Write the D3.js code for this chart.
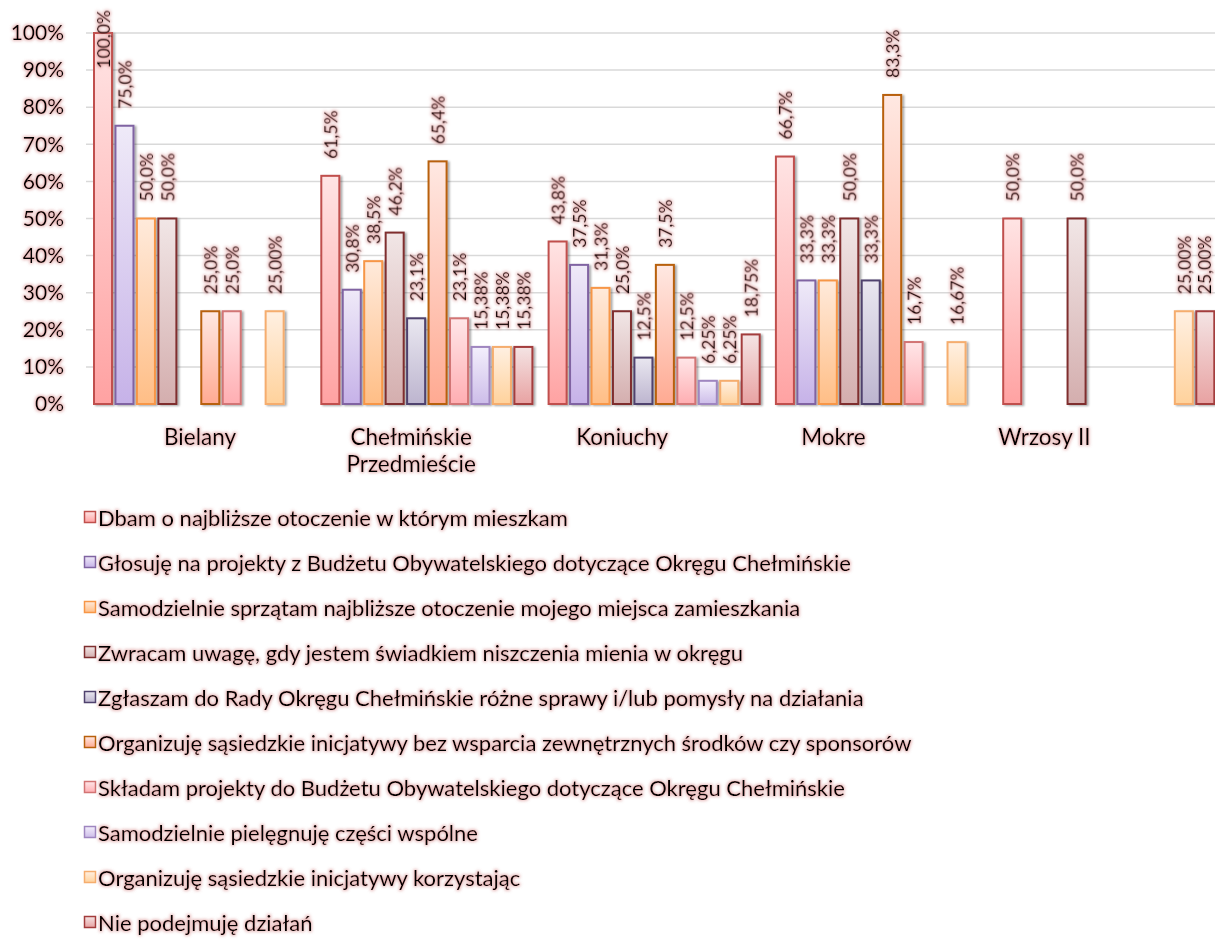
<!DOCTYPE html>
<html><head><meta charset="utf-8">
<script src="https://cdn.jsdelivr.net/npm/d3@7"></script>
<style>
html,body{margin:0;padding:0;background:#fff;}
text{font-family:Lato,"Open Sans",sans-serif;fill:#000;}
</style></head>
<body><svg id="c" width="1215" height="943"></svg>
<script>
const categories = ["Bielany", "Chełmińskie\nPrzedmieście", "Koniuchy", "Mokre", "Wrzosy II"];
const seriesNames = [
  "Dbam o najbliższe otoczenie w którym mieszkam",
  "Głosuję na projekty z Budżetu Obywatelskiego dotyczące Okręgu Chełmińskie",
  "Samodzielnie sprzątam najbliższe otoczenie mojego miejsca zamieszkania",
  "Zwracam uwagę, gdy jestem świadkiem niszczenia mienia w okręgu",
  "Zgłaszam do Rady Okręgu Chełmińskie różne sprawy i/lub pomysły na działania",
  "Organizuję sąsiedzkie inicjatywy bez wsparcia zewnętrznych środków czy sponsorów",
  "Składam projekty do Budżetu Obywatelskiego dotyczące Okręgu Chełmińskie",
  "Samodzielnie pielęgnuję części wspólne",
  "Organizuję sąsiedzkie inicjatywy korzystając",
  "Nie podejmuję działań"
];
// values per series (in category order), null = no bar
const s0 = [100.0, 61.5, 43.8, 66.7, 50.0];
const s1 = [75.0, 30.8, 37.5, 33.3, null];
const s2 = [50.0, 38.5, 31.3, 33.3, null];
const s3 = [50.0, 46.2, 25.0, 50.0, 50.0];
const s4 = [null, 23.1, 12.5, 33.3, null];
const s5 = [25.0, 65.4, 37.5, 83.3, null];
const s6 = [25.0, 23.1, 12.5, 16.7, null];
const s7 = [null, 15.38, 6.25, null, null];
const s8 = [25.00, 15.38, 6.25, 16.67, 25.00];
const s9 = [null, 15.38, 18.75, null, 25.00];
const labelDigits = [1, 1, 1, 1, 1, 1, 1, 2, 2, 2];
const seriesValues = [s0, s1, s2, s3, s4, s5, s6, s7, s8, s9];
const yTicks = [0, 10, 20, 30, 40, 50, 60, 70, 80, 90, 100];

const strokes = ["#c0504d", "#8064a2", "#f79646", "#7f2f2f", "#4f426e", "#b8600c", "#d27474", "#9f86c0", "#f5ad6e", "#a33c3c"];
const topC   = ["#ffe4e4", "#efeaf8", "#ffeadb", "#f1e6e6", "#e9e7f0", "#ffe8e2", "#ffe6e8", "#f3effc", "#fff0e2", "#f4e4e4"];
const botC   = ["#ffa2a2", "#c6b2e8", "#ffbe86", "#d4aeae", "#bdb5cf", "#ffaa92", "#ffaeb2", "#cdbde9", "#ffd29c", "#e8a2a2"];

const svg = d3.select("#c");
const defs = svg.append("defs");
const glow = defs.append("filter").attr("id", "glow").attr("x", "-20%").attr("y", "-40%").attr("width", "140%").attr("height", "180%");
glow.append("feMorphology").attr("in", "SourceAlpha").attr("operator", "dilate").attr("radius", 1).attr("result", "d");
glow.append("feGaussianBlur").attr("in", "d").attr("stdDeviation", 1.6).attr("result", "b");
glow.append("feFlood").attr("flood-color", "#d07878").attr("flood-opacity", 0.5).attr("result", "f");
glow.append("feComposite").attr("in", "f").attr("in2", "b").attr("operator", "in").attr("result", "g");
const gm = glow.append("feMerge");
gm.append("feMergeNode").attr("in", "g");
gm.append("feMergeNode").attr("in", "SourceGraphic");

const shadow = defs.append("filter").attr("id", "shadow").attr("x", "-30%").attr("y", "-10%").attr("width", "160%").attr("height", "120%");
shadow.append("feGaussianBlur").attr("in", "SourceAlpha").attr("stdDeviation", 1.2).attr("result", "b");
shadow.append("feOffset").attr("in", "b").attr("dx", 2).attr("dy", 1).attr("result", "o");
shadow.append("feComponentTransfer").attr("in", "o").attr("result", "o2").append("feFuncA").attr("type", "linear").attr("slope", 0.35);
const sm = shadow.append("feMerge");
sm.append("feMergeNode").attr("in", "o2");
sm.append("feMergeNode").attr("in", "SourceGraphic");

seriesNames.forEach((n, i) => {
  const lg = defs.append("linearGradient").attr("id", "g" + i).attr("x1", 0).attr("y1", 0).attr("x2", 0).attr("y2", 1);
  lg.append("stop").attr("offset", "0%").attr("stop-color", topC[i]);
  lg.append("stop").attr("offset", "100%").attr("stop-color", botC[i]);
});

const y = d3.scaleLinear().domain([0, 100]).range([404, 33]);
const xLabel = d3.scaleBand().domain(categories).range([94.5, 1150]);
const xGroup = d3.scaleBand().domain(categories).range([94, 94 + 5 * 227.3]);
const xSeries = d3.scaleBand().domain(d3.range(10)).range([0, 211.1]).paddingInner(0.16);

// gridlines
const grid = svg.append("g");
grid.selectAll("line").data(yTicks.slice(1)).join("line")
  .attr("x1", 86).attr("x2", 1215).attr("y1", d => y(d)).attr("y2", d => y(d))
  .attr("stroke", "#d9d9d9").attr("stroke-width", 1.5);

// y axis labels
const yAxis = d3.axisLeft(y).tickValues(yTicks).tickFormat(d => d + "%").tickSize(0).tickPadding(0);
const ya = svg.append("g").attr("transform", "translate(64,0)").call(yAxis);
ya.select(".domain").remove();
ya.selectAll("text").attr("font-size", 21).attr("font-family", "Lato").attr("fill", "#000").attr("filter", "url(#glow)");

// bars
const bars = svg.append("g");
seriesValues.forEach((vals, si) => {
  vals.forEach((v, ci) => {
    if (v === null) return;
    const x0 = xGroup(categories[ci]) + xSeries(si);
    bars.append("rect")
      .attr("x", x0).attr("y", y(v)).attr("width", xSeries.bandwidth()).attr("height", y(0) - y(v))
      .attr("fill", "url(#g" + si + ")").attr("stroke", strokes[si]).attr("stroke-width", 2)
      .attr("filter", "url(#shadow)");
  });
});

// baseline
svg.append("line").attr("x1", 86).attr("x2", 1215).attr("y1", 404.5).attr("y2", 404.5)
  .attr("stroke", "#d0d0d0").attr("stroke-width", 2).attr("filter", "url(#shadow)");

// data labels
const lbl = svg.append("g");
seriesValues.forEach((vals, si) => {
  vals.forEach((v, ci) => {
    if (v === null) return;
    let cx = xGroup(categories[ci]) + xSeries(si) + xSeries.bandwidth() / 2;
    cx = Math.min(cx, 1204);
    const txt = v.toFixed(labelDigits[si]).replace(".", ",") + "%";
    const t = lbl.append("text").text(txt).attr("font-size", 17.5)
      .attr("text-anchor", "start").attr("dominant-baseline", "central").attr("filter", "url(#glow)");
    const len = t.node().getComputedTextLength();
    let start = y(v) - 17;
    if (start - len < 10) start = 10 + len;
    t.attr("transform", `translate(${cx},${start}) rotate(-90)`);
  });
});

// category labels
const cat = svg.append("g");
categories.forEach(c => {
  const lines = c.split("\n");
  const t = cat.append("text").attr("text-anchor", "middle").attr("font-size", 22.5).attr("filter", "url(#glow)")
    .attr("x", xLabel(c) + xLabel.bandwidth() / 2);
  lines.forEach((l, i) => t.append("tspan").attr("x", xLabel(c) + xLabel.bandwidth() / 2).attr("y", 445 + i * 27).text(l));
});

// legend
const leg = svg.append("g");
seriesNames.forEach((n, i) => {
  const yy = 517 + i * 45;
  leg.append("rect").attr("x", 84.5).attr("y", yy - 5.5).attr("width", 11).attr("height", 11)
    .attr("fill", "url(#g" + i + ")").attr("stroke", strokes[i]).attr("stroke-width", 1.5);
  leg.append("text").attr("x", 98).attr("y", yy).attr("dominant-baseline", "central")
    .attr("font-size", 22).attr("filter", "url(#glow)").text(n);
});
</script></body></html>
